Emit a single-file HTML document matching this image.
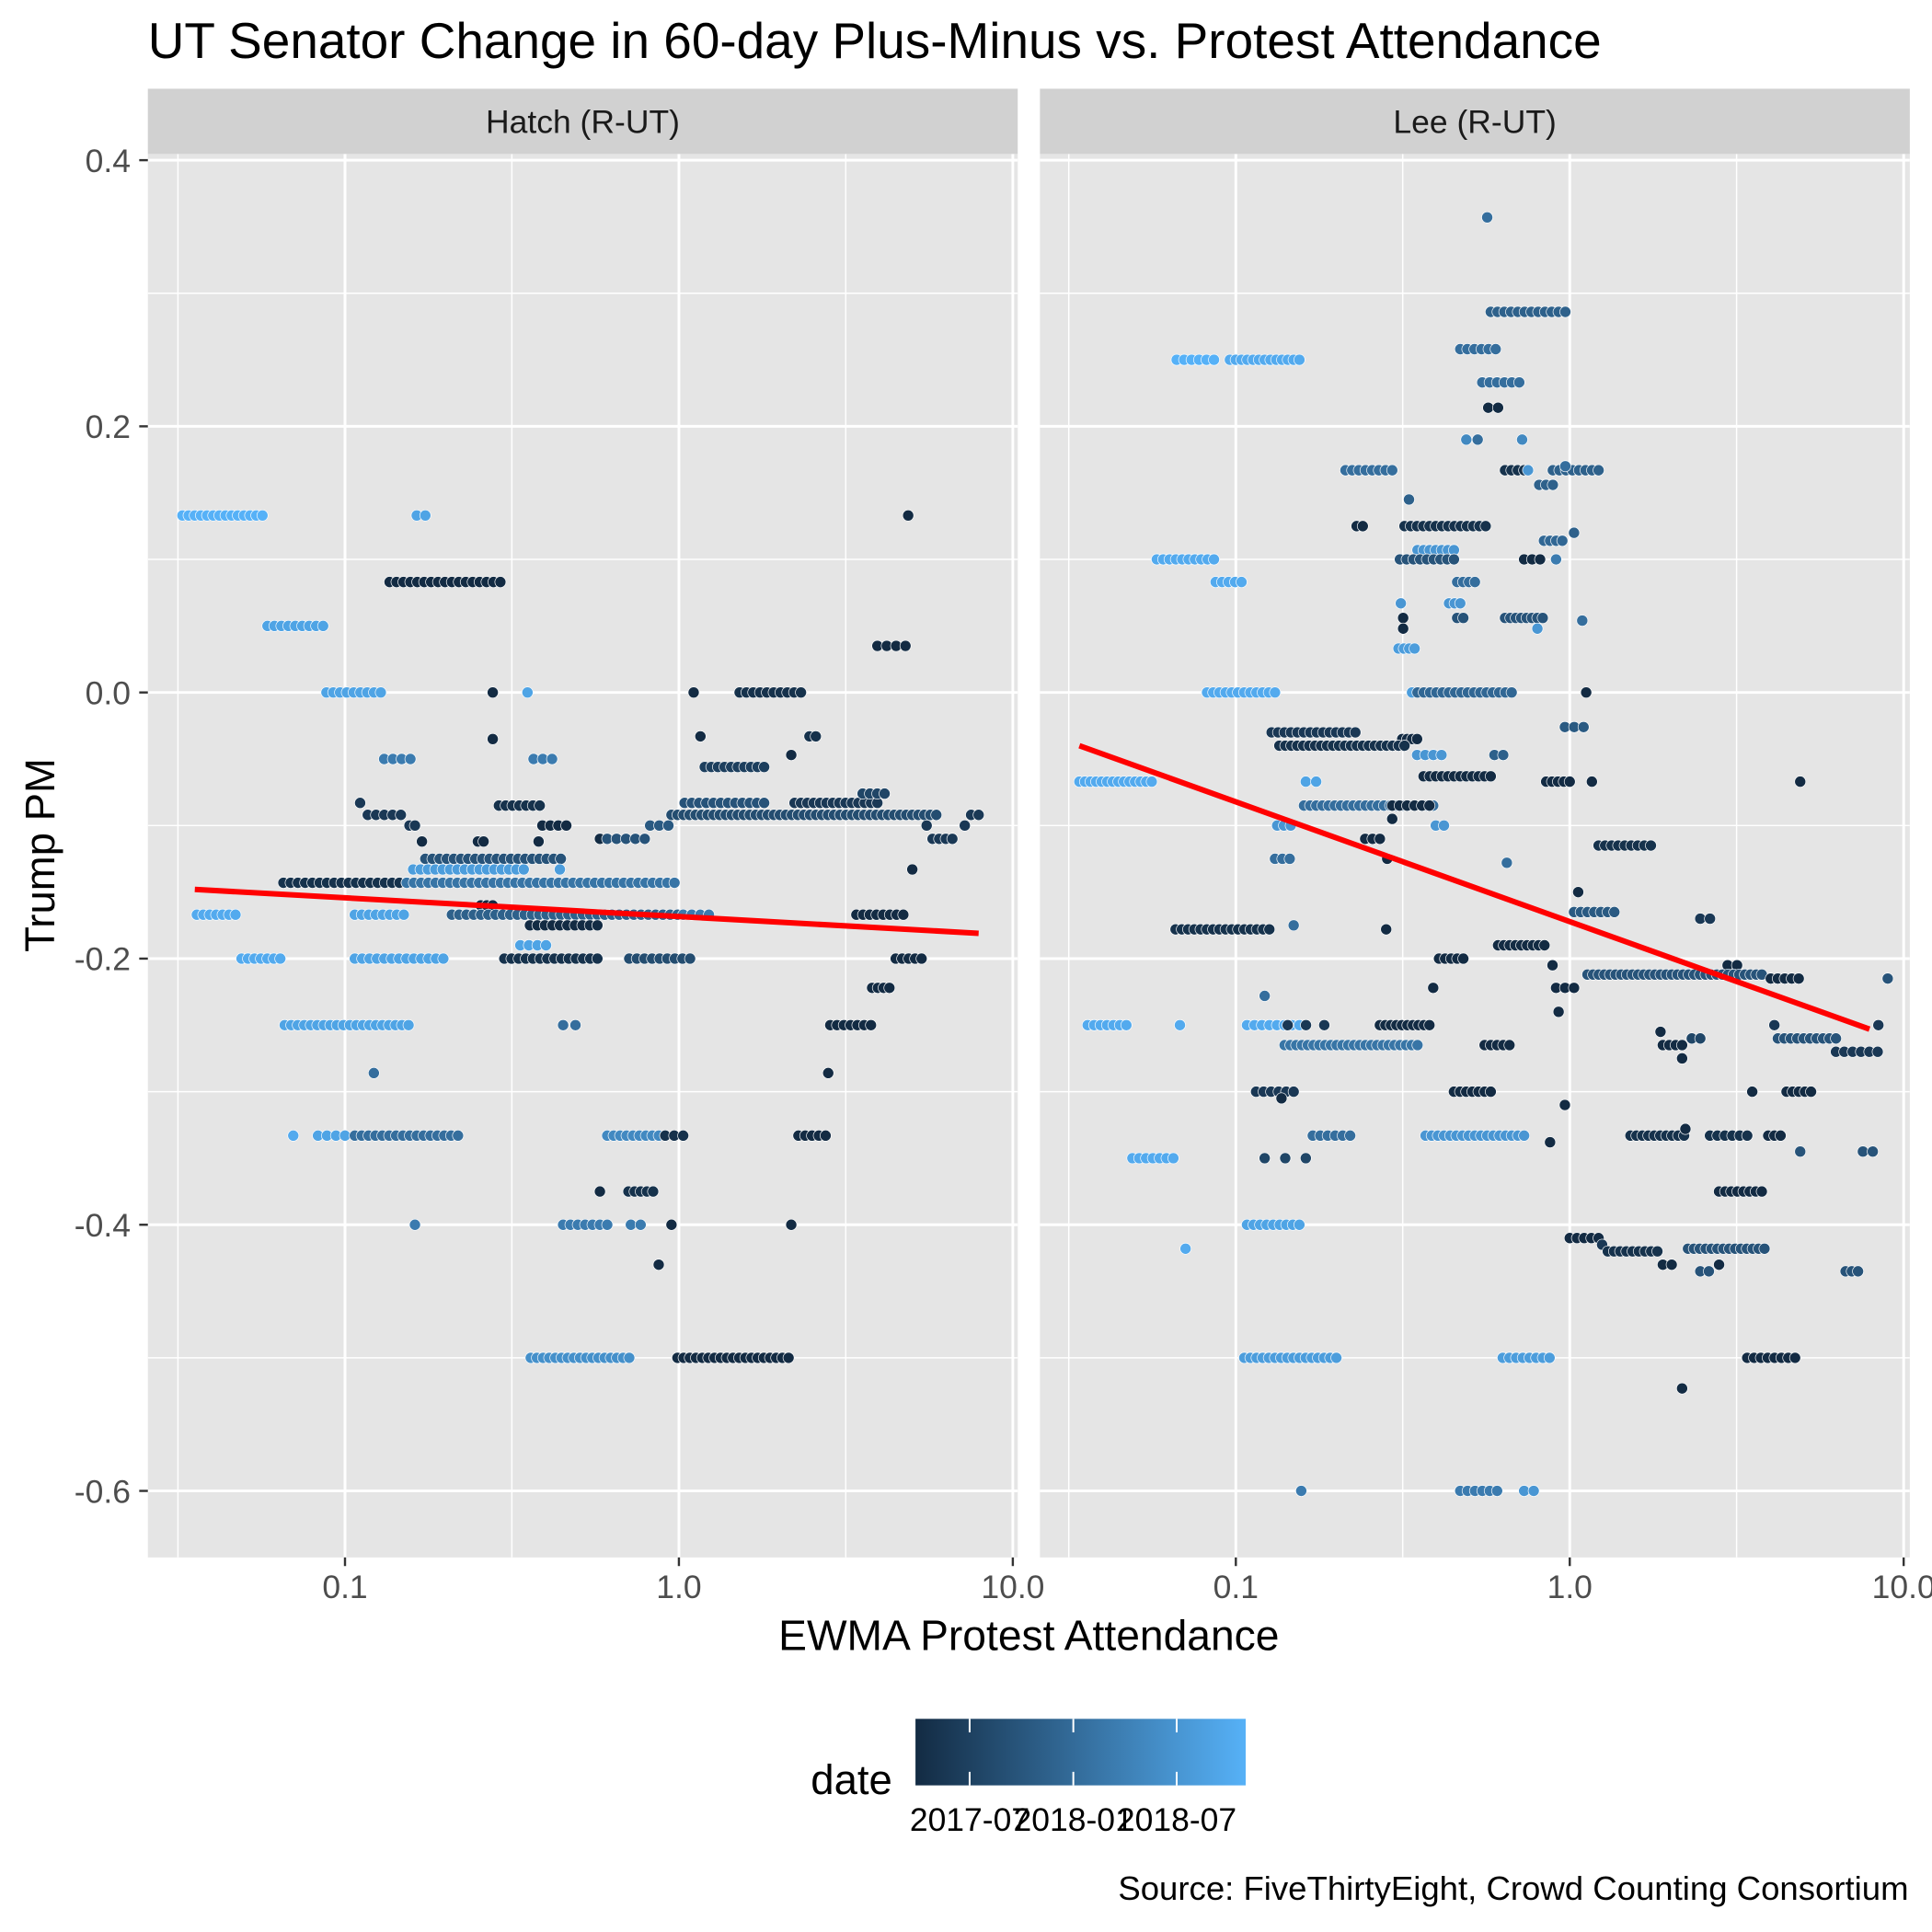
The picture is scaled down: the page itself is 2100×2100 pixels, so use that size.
<!DOCTYPE html>
<html><head><meta charset="utf-8"><style>
html,body{margin:0;padding:0;background:#fff;}
svg{display:block;font-family:"Liberation Sans",Arial,sans-serif;}
</style></head><body>
<svg id="chart" width="2100" height="2100" viewBox="0 0 1568 1568" xmlns="http://www.w3.org/2000/svg">
<rect width="1568" height="1568" fill="#fff"/>
<text x="120" y="47" font-size="41" fill="#000">UT Senator Change in 60-day Plus-Minus vs. Protest Attendance</text>
<g id="panels"></g>
<text x="835" y="1339" font-size="34.5" text-anchor="middle" fill="#000">EWMA Protest Attendance</text>
<text transform="translate(44,694) rotate(-90)" font-size="34" text-anchor="middle" fill="#000">Trump PM</text>
<g>
<defs><linearGradient id="grad" x1="0" x2="1" y1="0" y2="0"><stop offset="0" stop-color="#132B43"/><stop offset="1" stop-color="#56B1F7"/></linearGradient></defs>
<text x="658" y="1456" font-size="34" fill="#000">date</text>
<rect x="743" y="1395" width="268" height="54" fill="url(#grad)"/>
<g id="legendticks"></g>
</g>
<text x="1549" y="1542" font-size="27.3" text-anchor="end" fill="#000">Source: FiveThirtyEight, Crowd Counting Consortium</text>
</svg>
<script>
// [x0, x1, y, count, colorShade]
const hatchRuns = [
[0.0326,0.0566,0.133,14,1],[0.164,0.174,0.133,2,0.9],[0.136,0.292,0.083,17,0],[0.0586,0.086,0.05,9,0.9],
[0.088,0.128,0,9,0.9],[0.277,0.277,0,1,0],[0.352,0.352,0,1,0.9],[0.277,0.277,-0.035,1,0],[1.107,1.107,0,1,0],
[1.52,2.32,0,10,0.05],[1.16,1.16,-0.033,1,0],[2.46,2.57,-0.033,2,0.05],[2.17,2.17,-0.047,1,0],[4.86,4.86,0.133,1,0],
[3.93,4.77,0.035,4,0],[0.131,0.157,-0.05,4,0.6],[0.367,0.417,-0.05,3,0.6],[1.195,1.80,-0.056,10,0.15],
[0.111,0.111,-0.083,1,0.1],[0.117,0.147,-0.092,5,0.1],[0.289,0.383,-0.085,7,0.05],[0.156,0.162,-0.1,2,0.1],
[0.39,0.46,-0.1,4,0],[1.04,1.80,-0.083,12,0.3],[0.95,5.9,-0.092,45,0.25],[2.22,3.93,-0.083,14,0.1],
[3.55,4.13,-0.076,4,0.2],[5.52,5.52,-0.1,1,0.1],[7.18,7.18,-0.1,1,0.1],[5.75,6.59,-0.11,4,0.1],[7.5,7.9,-0.092,2,0.1],
[0.58,0.58,-0.11,1,0],[0.61,0.79,-0.11,5,0.3],[0.82,0.93,-0.1,3,0.35],[0.17,0.17,-0.112,1,0],
[0.174,0.443,-0.125,20,0.3],[0.25,0.26,-0.112,2,0],[0.38,0.38,-0.112,1,0],[0.16,0.343,-0.133,16,0.85],
[0.44,0.44,-0.133,1,0.85],[0.0654,0.153,-0.143,18,0.05],[0.153,0.97,-0.143,38,0.55],[0.255,0.277,-0.16,3,0],
[0.209,0.99,-0.167,32,0.4],[1.03,1.23,-0.167,4,0.6],[0.036,0.047,-0.167,7,0.95],[0.107,0.15,-0.167,8,0.9],
[0.358,0.57,-0.175,10,0],[0.335,0.40,-0.19,4,0.9],[0.049,0.064,-0.2,7,0.95],[0.107,0.197,-0.2,13,0.9],
[0.30,0.57,-0.2,14,0.05],[0.71,1.08,-0.2,9,0.25],[4.46,5.33,-0.2,5,0],[3.4,4.7,-0.167,8,0],[5.0,5.0,-0.133,1,0],
[3.79,4.27,-0.222,4,0],[0.066,0.155,-0.25,20,0.9],[0.45,0.49,-0.25,2,0.5],[2.84,3.76,-0.25,7,0],
[2.8,2.8,-0.286,1,0],[0.122,0.122,-0.286,1,0.5],[0.07,0.07,-0.333,1,0.95],[0.083,0.1,-0.333,4,0.9],
[0.107,0.218,-0.333,16,0.5],[0.61,0.91,-0.333,10,0.7],[0.91,1.03,-0.333,3,0.05],[2.28,2.75,-0.333,5,0],
[0.58,0.58,-0.375,1,0],[0.706,0.837,-0.375,5,0.05],[0.162,0.162,-0.4,1,0.6],[0.45,0.61,-0.4,7,0.6],
[0.718,0.768,-0.4,2,0.6],[0.95,0.95,-0.4,1,0],[2.17,2.17,-0.4,1,0],[0.87,0.87,-0.43,1,0],
[0.36,0.71,-0.5,17,0.75],[0.99,2.13,-0.5,19,0]
];
const leeRuns = [
[0.566,0.566,0.357,1,0.5],[0.58,0.97,0.286,12,0.4],[0.0665,0.086,0.25,6,1],[0.096,0.155,0.25,13,0.95],
[0.47,0.60,0.258,6,0.5],[0.547,0.706,0.233,6,0.5],[0.57,0.61,0.214,2,0],[0.49,0.49,0.19,1,0.7],[0.53,0.53,0.19,1,0.5],
[0.72,0.72,0.19,1,0.7],[0.213,0.294,0.167,8,0.5],[0.64,0.73,0.167,4,0.05],[0.75,0.75,0.167,1,0.8],[0.89,1.22,0.167,8,0.4],
[0.97,0.97,0.17,1,0.5],[0.81,0.89,0.156,3,0.4],[0.33,0.33,0.145,1,0.4],[0.23,0.24,0.125,2,0],[0.32,0.56,0.125,14,0.05],
[1.03,1.03,0.12,1,0.4],[0.837,0.95,0.114,4,0.45],[0.35,0.45,0.107,7,0.8],[0.31,0.45,0.1,9,0.3],[0.73,0.815,0.1,3,0],
[0.91,0.91,0.1,1,0.6],[0.058,0.086,0.1,10,0.95],[0.087,0.104,0.083,5,0.95],[0.46,0.52,0.083,4,0.5],
[0.312,0.312,0.067,1,0.8],[0.435,0.47,0.067,3,0.8],[0.317,0.317,0.056,1,0],[0.46,0.48,0.056,2,0.3],[0.64,0.83,0.056,8,0.3],
[0.317,0.317,0.048,1,0],[0.80,0.80,0.048,1,0.8],[1.09,1.09,0.054,1,0.5],[0.307,0.343,0.033,4,0.85],
[0.082,0.131,0,12,0.95],[0.337,0.337,0,1,0.85],[0.35,0.67,0,16,0.45],[1.12,1.12,0,1,0],[0.967,1.10,-0.026,3,0.35],
[0.128,0.228,-0.03,14,0.1],[0.315,0.349,-0.035,4,0],[0.135,0.32,-0.04,22,0.05],[0.349,0.413,-0.047,4,0.8],
[0.595,0.632,-0.047,2,0.4],[0.365,0.58,-0.063,12,0],[0.034,0.056,-0.067,14,0.95],[0.162,0.174,-0.067,2,0.9],
[0.85,1.0,-0.067,5,0],[1.165,1.165,-0.067,1,0],[4.9,4.9,-0.067,1,0],[0.16,0.39,-0.085,22,0.5],[0.294,0.38,-0.085,6,0],
[0.294,0.294,-0.095,1,0],[0.133,0.146,-0.1,3,0.8],[0.397,0.42,-0.1,2,0.8],[0.244,0.27,-0.11,3,0],[1.22,1.75,-0.115,9,0.05],
[0.131,0.145,-0.125,3,0.5],[0.284,0.284,-0.125,1,0],[0.648,0.648,-0.128,1,0.5],[1.06,1.06,-0.15,1,0],
[1.03,1.36,-0.165,7,0.35],[2.46,2.63,-0.17,2,0.1],[0.149,0.149,-0.175,1,0.5],[0.066,0.126,-0.178,16,0.05],
[0.282,0.282,-0.178,1,0],[0.61,0.84,-0.19,9,0],[0.406,0.48,-0.2,5,0],[0.888,0.888,-0.205,1,0],[2.97,3.17,-0.205,2,0],
[1.13,3.76,-0.212,32,0.3],[4.0,4.85,-0.215,5,0],[8.96,8.96,-0.215,1,0.3],[0.39,0.39,-0.222,1,0],[0.91,1.03,-0.222,3,0],
[0.122,0.122,-0.228,1,0.5],[0.926,0.926,-0.24,1,0],[0.036,0.047,-0.25,7,0.95],[0.068,0.068,-0.25,1,0.95],
[0.108,0.155,-0.25,8,0.95],[0.143,0.184,-0.25,3,0.1],[0.27,0.38,-0.25,10,0],[4.1,4.1,-0.25,1,0.1],[8.4,8.4,-0.25,1,0.1],
[1.87,1.87,-0.255,1,0],[4.2,6.27,-0.26,10,0.3],[2.32,2.46,-0.26,2,0.2],[0.14,0.35,-0.265,24,0.55],[0.556,0.66,-0.265,5,0],
[6.27,8.36,-0.27,6,0.1],[1.9,2.17,-0.265,4,0],[2.17,2.17,-0.275,1,0],[0.115,0.149,-0.3,6,0.1],[0.45,0.58,-0.3,7,0],
[3.52,3.52,-0.3,1,0],[4.46,5.28,-0.3,5,0],[0.137,0.137,-0.305,1,0],[0.967,0.967,-0.31,1,0],[0.37,0.73,-0.333,17,0.8],
[0.17,0.22,-0.333,6,0.5],[0.873,0.873,-0.338,1,0],[1.52,2.2,-0.333,10,0.05],[2.63,3.4,-0.333,6,0.05],[3.93,4.28,-0.333,3,0],
[2.22,2.22,-0.328,1,0],[0.049,0.065,-0.35,7,0.95],[0.122,0.162,-0.35,3,0.2],[4.9,4.9,-0.345,1,0.3],[7.55,8.08,-0.345,2,0.3],
[2.8,3.76,-0.375,8,0],[0.108,0.155,-0.4,9,0.9],[1.0,1.22,-0.41,5,0],[1.25,1.25,-0.415,1,0.1],[0.0707,0.0707,-0.418,1,0.95],
[1.3,1.83,-0.42,9,0.05],[2.26,3.83,-0.418,14,0.3],[1.9,2.02,-0.43,2,0],[2.46,2.61,-0.435,2,0.3],[2.8,2.8,-0.43,1,0],
[6.7,7.3,-0.435,3,0.3],[0.106,0.2,-0.5,16,0.85],[0.63,0.87,-0.5,8,0.85],[3.4,4.73,-0.5,8,0],[2.17,2.17,-0.523,1,0],
[0.157,0.157,-0.6,1,0.6],[0.47,0.606,-0.6,6,0.6],[0.73,0.78,-0.6,2,0.8]
];
const hatchFitX = [0.0355, 7.9];
const hatchFitY = [-0.148, -0.181];
const leeFitX = [0.034, 7.9];
const leeFitY = [-0.04, -0.253];
const panelNames = ["Hatch (R-UT)", "Lee (R-UT)"];
const xTickValues = [0.1, 1, 10];
const xTickLabels = ["0.1", "1.0", "10.0"];
const yTickValues = [0.4, 0.2, 0, -0.2, -0.4, -0.6];
const yTickLabels = ["0.4", "0.2", "0.0", "-0.2", "-0.4", "-0.6"];
const yMinorValues = [0.3, 0.1, -0.1, -0.3, -0.5];
const xMinorValues = [0.0316, 0.316, 3.16];
const legendTickLabels = ["2017-07", "2018-01", "2018-07"];
const legendTickPos = [0.164, 0.478, 0.791];

const NS = "http://www.w3.org/2000/svg";
function mk(tag, attrs, parent){const e=document.createElementNS(NS,tag);for(const k in attrs)e.setAttribute(k,attrs[k]);parent.appendChild(e);return e;}
const yScale = v => 562 - v * 1080;
const panelLeft = [120, 844];
const pw = 706, PT = 125, PB = 1264;
function xScaleFor(p){const off = p*723; return v => 551 + off + Math.log10(v)*271;}
function colorFor(c){
  const a=[0x13,0x2B,0x43], b=[0x56,0xB1,0xF7];
  return "rgb("+a.map((v,i)=>Math.round(v+(b[i]-v)*c)).join(",")+")";
}
const root = document.getElementById("panels");
const allRuns = [hatchRuns, leeRuns];
const fits = [[hatchFitX,hatchFitY],[leeFitX,leeFitY]];
for (let p=0;p<2;p++){
  const L = panelLeft[p], xs = xScaleFor(p);
  const g = mk("g",{},root);
  
  
  const strip = mk("rect",{x:L,y:72,width:pw,height:53,fill:"#D1D1D1"},g);
  
  
  const st = mk("text",{x:L+pw/2,y:108,"font-size":26.5,"text-anchor":"middle",fill:"#1A1A1A"},g);
  st.textContent = panelNames[p];
  
  
  const bg = mk("rect",{x:L,y:PT,width:pw,height:PB-PT,fill:"#E5E5E5"},g);
  
  
  const cp = mk("clipPath",{id:"cp"+p},g); mk("rect",{x:L,y:PT,width:pw,height:PB-PT},cp);
  const inner = mk("g",{"clip-path":"url(#cp"+p+")"},g);
  yMinorValues.forEach(v=>{const l=mk("line",{x1:L,x2:L+pw,y1:yScale(v),y2:yScale(v),stroke:"#fff","stroke-width":1.1},inner);
     });
  xMinorValues.forEach(v=>{const l=mk("line",{x1:xs(v),x2:xs(v),y1:PT,y2:PB,stroke:"#fff","stroke-width":1.1},inner);
     });
  yTickValues.forEach(v=>{const l=mk("line",{x1:L,x2:L+pw,y1:yScale(v),y2:yScale(v),stroke:"#fff","stroke-width":2.2},inner);
     });
  xTickValues.forEach(v=>{const l=mk("line",{x1:xs(v),x2:xs(v),y1:PT,y2:PB,stroke:"#fff","stroke-width":2.2},inner);
     });
  allRuns[p].forEach(r=>{
    const [x0,x1,y,n,c]=r; const l0=Math.log10(x0), l1=Math.log10(x1);
    for(let i=0;i<n;i++){
      const lv = n===1?l0:l0+(l1-l0)*i/(n-1);
      const pt = mk("circle",{cx:xs(Math.pow(10,lv)),cy:yScale(y),r:4.5,fill:colorFor(c),stroke:"#fff","stroke-width":0.5},inner);
      
      
    }
  });
  const [fx,fy]=fits[p];
  const fl = mk("line",{x1:xs(fx[0]),y1:yScale(fy[0]),x2:xs(fx[1]),y2:yScale(fy[1]),stroke:"#FF0000","stroke-width":4.5},inner);
  
  
  xTickValues.forEach((v,i)=>{
    mk("line",{x1:xs(v),x2:xs(v),y1:PB,y2:PB+7,stroke:"#333","stroke-width":1.8},g);
    const t=mk("text",{x:xs(v),y:1297,"font-size":26.5,"text-anchor":"middle",fill:"#4D4D4D"},g);
    t.textContent=xTickLabels[i];
    
    
  });
  if(p===0){
    yTickValues.forEach((v,i)=>{
      mk("line",{x1:113,x2:120,y1:yScale(v),y2:yScale(v),stroke:"#333","stroke-width":1.8},g);
      const t=mk("text",{x:106,y:yScale(v)+9.5,"font-size":26.5,"text-anchor":"end",fill:"#4D4D4D"},g);
      t.textContent=yTickLabels[i];
      
      
    });
  }
}
const lt = document.getElementById("legendticks");
legendTickPos.forEach((f,i)=>{
  const x = 743 + f*268;
  mk("line",{x1:x,x2:x,y1:1395,y2:1406,stroke:"#fff","stroke-width":1.5},lt);
  mk("line",{x1:x,x2:x,y1:1438,y2:1449,stroke:"#fff","stroke-width":1.5},lt);
  const t=mk("text",{x:x,y:1486,"font-size":26.5,"text-anchor":"middle",fill:"#000"},lt);
  t.textContent=legendTickLabels[i];
  
  
});
</script>
</body></html>
